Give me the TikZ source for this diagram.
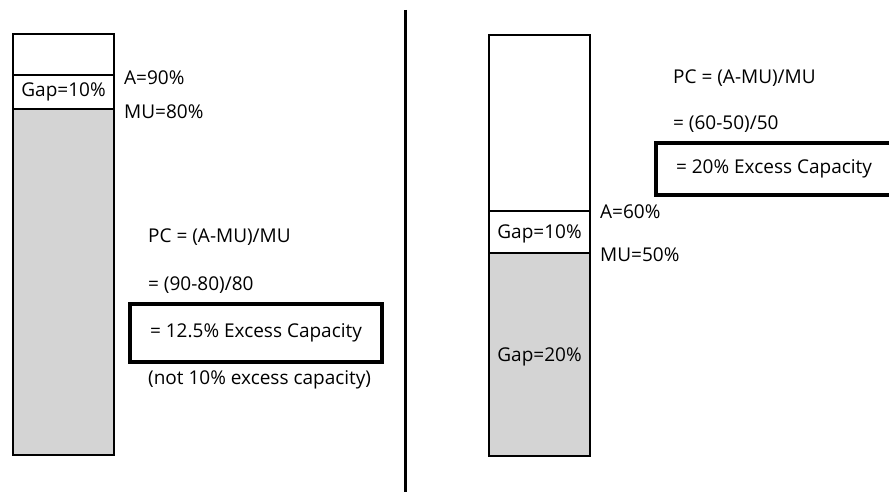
\documentclass[tikz,border=0pt]{standalone}
\usepackage{fontspec}
\setmainfont{Open Sans}
\begin{document}
\begin{tikzpicture}[x=1pt, y=-1pt,
  every node/.style={font=\fontsize{19}{22}\selectfont, inner sep=0pt},
  lbl/.style={anchor=west},
  bar/.style={draw, line width=1.6pt},
  used/.style={bar, fill=black!17},
  result/.style={draw, line width=3.5pt, minimum height=58pt}]
\useasboundingbox (0,0) rectangle (889,492);
% left case: A=90%, MU=80%
\draw[bar] (13,34) rectangle (114,75);
\draw[bar] (13,75) rectangle (114,109);
\draw[used] (13,109) rectangle (114,455);
\node (gapL) at (63.5,92) {Gap=10\%};
\node[lbl] (aL) at (124,78) {A=90\%};
\node[lbl] (muL) at (124,112) {MU=80\%};
\node[lbl] (pcL) at (148,237) {PC = (A-MU)/MU};
\node[lbl] (calcL) at (148,285) {= (90-80)/80};
\node[result, minimum width=252pt] (resL) at (256,333) {= 12.5\% Excess Capacity};
\node[lbl] (noteL) at (148,380) {(not 10\% excess capacity)};
% divider
\draw[line width=3pt] (405,10) -- (405,492);
% right case: A=60%, MU=50%
\draw[bar] (489,35) rectangle (590,211);
\draw[bar] (489,211) rectangle (590,253);
\draw[used] (489,253) rectangle (590,456);
\node (gapR) at (539.5,234) {Gap=10\%};
\node (gapR2) at (539.5,357) {Gap=20\%};
\node[lbl] (aR) at (600,212) {A=60\%};
\node[lbl] (muR) at (600,255) {MU=50\%};
\node[lbl] (pcR) at (673,78) {PC = (A-MU)/MU};
\node[lbl] (calcR) at (673,124) {= (60-50)/50};
\node[result, minimum width=236pt, minimum height=52pt] (resR) at (774,169) {= 20\% Excess Capacity};
\end{tikzpicture}
\end{document}
